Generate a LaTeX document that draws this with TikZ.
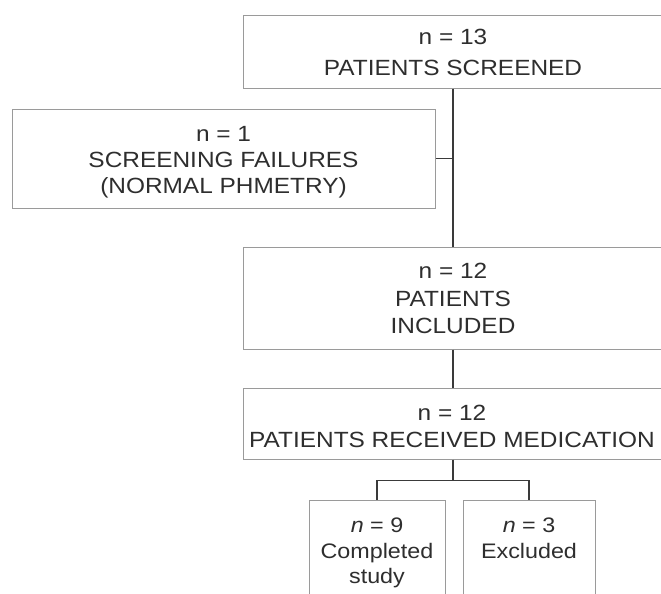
\documentclass[tikz,border=0pt]{standalone}
\usepackage{fontspec}
\setmainfont{Liberation Sans}[FakeStretch=1.11]
\definecolor{txt}{HTML}{2E2E2E}
\definecolor{boxline}{HTML}{9A9A9A}
\definecolor{conn}{HTML}{3A3A3A}
\tikzset{
  box/.style={draw=boxline, line width=1pt, inner sep=0pt, rectangle},
  lbl/.style={anchor=base, inner sep=0pt, text=txt, font=\fontsize{22}{26}\selectfont},
  smalllbl/.style={anchor=base, inner sep=0pt, text=txt, font=\fontsize{21}{25}\selectfont},
  link/.style={draw=conn, line width=1.5pt},
}
\begin{document}
\begin{tikzpicture}[x=1pt,y=-1pt]
\clip (0,0) rectangle (661,594);
\fill[white] (0,0) rectangle (661,594);
% boxes
\node[box, minimum width=420pt, minimum height=72pt] (top) at (453,52) {};
\node[box, minimum width=423pt, minimum height=99pt] (scr) at (223.5,158.5) {};
\node[box, minimum width=420pt, minimum height=102pt] (incl) at (453,298) {};
\node[box, minimum width=420pt, minimum height=71pt] (med) at (453,423.5) {};
\node[box, minimum width=136pt, minimum height=100pt] (comp) at (377,550) {};
\node[box, minimum width=132pt, minimum height=100pt] (excl) at (529,550) {};
% texts
\node[lbl] (t1) at (453,45) {n = 13};
\node[lbl] (t2) at (453,75) {PATIENTS SCREENED};
\node[lbl] (s1) at (223.5,141) {n = 1};
\node[lbl] (s2) at (223.5,167) {SCREENING FAILURES};
\node[lbl] (s3) at (223.5,193) {(NORMAL PHMETRY)};
\node[lbl] (i1) at (453,278) {n = 12};
\node[lbl] (i2) at (453,306) {PATIENTS};
\node[lbl] (i3) at (453,333) {INCLUDED};
\node[lbl] (m1) at (452,420) {n = 12};
\node[lbl] (m2) at (452,447) {PATIENTS RECEIVED MEDICATION};
\node[smalllbl] (c1) at (377,532) {\textit{n} = 9};
\node[smalllbl] (c2) at (377,558) {Completed};
\node[smalllbl] (c3) at (377,583) {study};
\node[smalllbl] (e1) at (529,532) {\textit{n} = 3};
\node[smalllbl] (e2) at (529,558) {Excluded};
% connectors
\draw[link] (top.south) -- (incl.north);
\draw[link] (scr.east) -- (scr.east -| top.south);
\draw[link] (incl.south) -- (med.north);
\draw[link] (med.south) -- ++(0,21) coordinate (br);
\draw[link] (comp.north) |- (br) -| (excl.north);
\end{tikzpicture}
\end{document}
